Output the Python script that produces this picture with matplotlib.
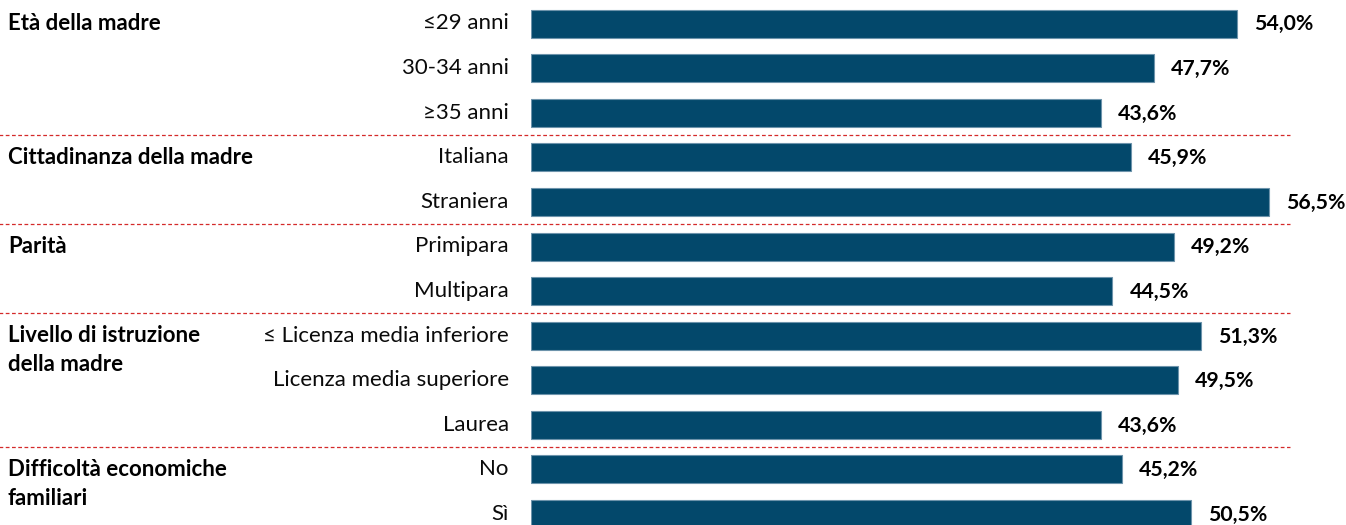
import matplotlib
matplotlib.use("Agg")
import matplotlib.pyplot as plt

categories = ["≤29 anni", "30-34 anni", "≥35 anni",
              "Italiana", "Straniera",
              "Primipara", "Multipara",
              "≤ Licenza media inferiore", "Licenza media superiore", "Laurea",
              "No", "Sì"]
values = [54.0, 47.7, 43.6, 45.9, 56.5, 49.2, 44.5, 51.3, 49.5, 43.6, 45.2, 50.5]
groups = ["Età della madre", "Cittadinanza della madre", "Parità",
          "Livello di istruzione\ndella madre", "Difficoltà economiche\nfamiliari"]
group_sizes = [3, 2, 2, 3, 2]

plt.rcParams['font.family'] = ['Lato', 'DejaVu Sans']

W, H = 1346, 525
fig = plt.figure(figsize=(W / 100, H / 100), dpi=100)

x0_px = 530.7
px_per_unit = (1236.7 - 530.7) / 54.0
xmax = 60.0
ax_w_px = xmax * px_per_unit
row0_px = 23.5
row_step = 44.6
y_top = -row0_px / row_step
y_bot = (H - row0_px) / row_step

ax = fig.add_axes([x0_px / W, 0, ax_w_px / W, 1])
ax.set_xlim(0, xmax)
ax.set_ylim(y_bot, y_top)
ax.axis("off")

bar_color = "#03486B"
pos = list(range(len(categories)))
ax.barh(pos, values, height=28 / row_step, color=bar_color,
        edgecolor="#6d93ab", linewidth=0.8)

label_off = 17 / px_per_unit
for p, v in zip(pos, values):
    ax.text(v + label_off, p + 0.02, f"{v:.1f}%".replace(".", ","), va="center",
            ha="left", fontsize=15.3, fontweight="bold", color="#000000")

cat_off = 22 / px_per_unit
for p, c in zip(pos, categories):
    ax.text(-cat_off, p, c, va="center", ha="right", fontsize=16, color="#0a0a0a")

# group labels and separators
start = 0
left_x = -(x0_px - 8) / px_per_unit
sep_right = (1290 - x0_px) / px_per_unit
line_gap = 29 / row_step
for gi, (g, n) in enumerate(zip(groups, group_sizes)):
    for k, line in enumerate(g.split("\n")):
        ax.text(left_x, start + k * line_gap, line, va="center", ha="left",
                fontsize=16, fontweight="bold", color="#000000")
    end = start + n
    if gi < len(groups) - 1:
        ax.plot([left_x - 1, sep_right], [end - 0.5, end - 0.5], color="#d42a2a",
                linestyle=(0, (3, 2)), linewidth=0.9, clip_on=False)
    start = end

fig.savefig("out.png", dpi=100)
